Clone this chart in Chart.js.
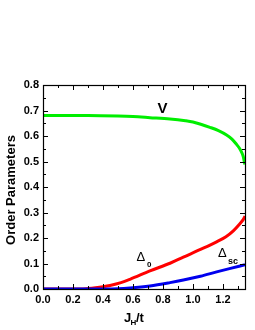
<!DOCTYPE html>
<html>
<head>
<meta charset="utf-8">
<script src="https://cdn.jsdelivr.net/npm/chart.js@4/dist/chart.umd.min.js"></script>
<style>
  html, body { margin: 0; padding: 0; background: #fff; }
  #wrap { width: 255px; height: 330px; }
</style>
</head>
<body>
<div id="wrap"><canvas id="chart" width="255" height="330"></canvas></div>
<script>
// osie
const xTicks = [0.0, 0.2, 0.4, 0.6, 0.8, 1.0, 1.2];
const yTicks = [0.0, 0.1, 0.2, 0.3, 0.4, 0.5, 0.6, 0.7, 0.8];
const xMax = 1.347;

// V (zielona)
const vX = [0, 0.3, 0.5, 0.6, 0.713, 0.847, 0.95, 1.0, 1.047, 1.113, 1.17, 1.224, 1.26, 1.291, 1.31, 1.324, 1.335, 1.342, 1.346];
const vY = [0.680, 0.680, 0.678, 0.676, 0.672, 0.667, 0.660, 0.655, 0.647, 0.634, 0.621, 0.604, 0.588, 0.567, 0.552, 0.537, 0.520, 0.500, 0.488];

// Delta_0 (czerwona)
const d0X = [0, 0.25, 0.3, 0.35, 0.4, 0.447, 0.52, 0.58, 0.713, 0.847, 0.936, 1.05, 1.158, 1.22, 1.269, 1.313, 1.335, 1.347];
const d0Y = [0, 0, 0.002, 0.005, 0.009, 0.014, 0.025, 0.038, 0.071, 0.101, 0.125, 0.155, 0.185, 0.205, 0.228, 0.256, 0.272, 0.286];

// Delta_sc (niebieska)
const dscX = [0, 0.42, 0.5, 0.58, 0.713, 0.847, 0.936, 1.05, 1.158, 1.25, 1.347];
const dscY = [0, 0, 0.001, 0.004, 0.012, 0.025, 0.035, 0.05, 0.067, 0.081, 0.095];

const toPoints = (xs, ys) => xs.map((x, i) => ({ x, y: ys[i] }));

const FONT = '"Liberation Sans", Arial, sans-serif';

// ramka, wewnętrzne znaczniki i podpisy
const framePlugin = {
  id: 'frame',
  afterDraw(chart) {
    const { ctx, chartArea: a, scales: { x, y } } = chart;
    ctx.save();
    ctx.strokeStyle = '#000';
    ctx.lineWidth = 1;
    ctx.beginPath();
    // ticks x (góra i dół)
    for (let v = 0; v <= xMax + 1e-9; v += 0.1) {
      const px = Math.round(x.getPixelForValue(v)) + 0.5;
      const major = Math.round(v * 10) % 2 === 0;
      const len = major ? 5 : 3;
      ctx.moveTo(px, a.bottom); ctx.lineTo(px, a.bottom - len);
      ctx.moveTo(px, a.top); ctx.lineTo(px, a.top + len);
    }
    // ticks y (lewo i prawo)
    for (let v = 0; v <= 0.8 + 1e-9; v += 0.05) {
      const py = Math.round(y.getPixelForValue(v)) + 0.5;
      const major = Math.round(v * 20) % 2 === 0;
      const len = major ? 5 : 3;
      ctx.moveTo(a.left, py); ctx.lineTo(a.left + len, py);
      ctx.moveTo(a.right, py); ctx.lineTo(a.right - len, py);
    }
    ctx.stroke();
    ctx.lineWidth = 1.2;
    ctx.strokeRect(Math.round(a.left) + 0.5, Math.round(a.top) + 0.5,
      Math.round(a.right - a.left), Math.round(a.bottom - a.top));

    ctx.fillStyle = '#000';
    // V
    ctx.font = 'bold 15px ' + FONT;
    ctx.textAlign = 'center';
    ctx.textBaseline = 'alphabetic';
    ctx.fillText('V', 162.5, 113);
    // Delta_0
    ctx.font = '13px ' + FONT;
    ctx.textAlign = 'left';
    ctx.fillText('\u0394', 136.5, 261);
    ctx.font = 'bold 8px ' + FONT;
    ctx.fillText('0', 147, 267);
    // Delta_sc
    ctx.font = '13px ' + FONT;
    ctx.fillText('\u0394', 218, 257);
    ctx.font = 'bold 9px ' + FONT;
    ctx.fillText('sc', 228, 264);

    // tytuł osi x: J_H/t
    ctx.font = 'bold 13px ' + FONT;
    ctx.fillText('J', 124, 322);
    ctx.font = 'bold 8px ' + FONT;
    ctx.fillText('H', 130.5, 325);
    ctx.font = 'bold 13px ' + FONT;
    ctx.fillText('/t', 136, 322);

    // tytuł osi y
    ctx.translate(15, 190);
    ctx.rotate(-Math.PI / 2);
    ctx.textAlign = 'center';
    ctx.font = 'bold 13px ' + FONT;
    ctx.fillText('Order Parameters', 0, 0);
    ctx.restore();
  }
};

new Chart(document.getElementById('chart'), {
  type: 'line',
  data: {
    datasets: [
      { label: 'Dsc', data: toPoints(dscX, dscY), borderColor: '#0000ee' },
      { label: 'D0', data: toPoints(d0X, d0Y), borderColor: '#ff0000' },
      { label: 'V', data: toPoints(vX, vY), borderColor: '#00ee00' }
    ]
  },
  options: {
    responsive: false,
    animation: false,
    layout: { padding: { left: 0, right: 10, top: 85, bottom: 0 } },
    elements: {
      point: { radius: 0 },
      line: { borderWidth: 3, cubicInterpolationMode: 'monotone', fill: false }
    },
    plugins: { legend: { display: false }, tooltip: { enabled: false } },
    scales: {
      x: {
        type: 'linear',
        min: 0,
        max: xMax,
        afterBuildTicks: s => { s.ticks = xTicks.map(v => ({ value: v })); },
        afterFit: s => { s.height = 41; },
        grid: { display: false, drawTicks: false },
        border: { display: false },
        ticks: {
          padding: 4,
          maxRotation: 0,
          autoSkip: false,
          color: '#000',
          font: { family: FONT, size: 11, weight: 'bold' },
          callback: v => v.toFixed(1)
        }
      },
      y: {
        type: 'linear',
        min: 0,
        max: 0.8,
        afterBuildTicks: s => { s.ticks = yTicks.map(v => ({ value: v })); },
        afterFit: s => { s.width = 43; },
        grid: { display: false, drawTicks: false },
        border: { display: false },
        ticks: {
          padding: 4,
          autoSkip: false,
          color: '#000',
          font: { family: FONT, size: 11, weight: 'bold' },
          callback: v => v.toFixed(1)
        }
      }
    }
  },
  plugins: [framePlugin]
});
</script>
</body>
</html>
